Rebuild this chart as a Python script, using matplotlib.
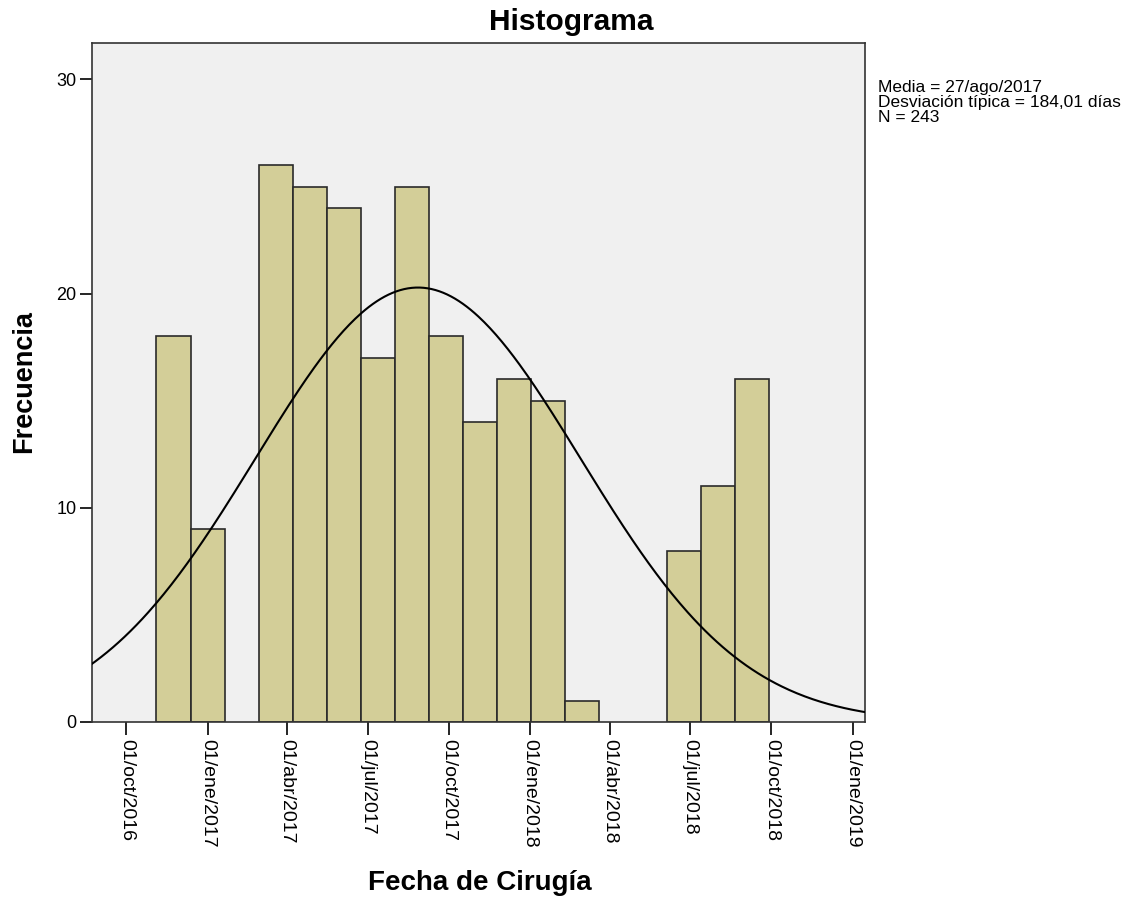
import datetime as dt

import numpy as np
import matplotlib
matplotlib.use("Agg")
import matplotlib.pyplot as plt
import matplotlib.dates as mdates

plt.rcParams["font.family"] = ["Liberation Sans", "DejaVu Sans"]

# histogram bins (SPSS style)
bin_start = dt.datetime(2016, 11, 4)
bin_width_days = 38.5
counts = [18, 9, 0, 26, 25, 24, 17, 25, 18, 14, 16, 15, 1, 0, 0, 8, 11, 16]

# statistics shown in the side box
mean_date = dt.datetime(2017, 8, 27)
sd_days = 184.01
n_total = 243

tick_dates = [dt.datetime(2016, 10, 1), dt.datetime(2017, 1, 1), dt.datetime(2017, 4, 1),
              dt.datetime(2017, 7, 1), dt.datetime(2017, 10, 1), dt.datetime(2018, 1, 1),
              dt.datetime(2018, 4, 1), dt.datetime(2018, 7, 1), dt.datetime(2018, 10, 1),
              dt.datetime(2019, 1, 1)]
tick_labels = ["01/oct/2016", "01/ene/2017", "01/abr/2017", "01/jul/2017", "01/oct/2017",
               "01/ene/2018", "01/abr/2018", "01/jul/2018", "01/oct/2018", "01/ene/2019"]

fig = plt.figure(figsize=(11.28, 8.99), dpi=100)
ax = fig.add_axes([92 / 1128, 1 - 722 / 899, (865 - 92) / 1128, (722 - 43) / 899])
ax.set_facecolor("#F0F0F0")

x0 = mdates.date2num(bin_start)
lefts = x0 + bin_width_days * np.arange(len(counts))
mask = np.array(counts) > 0
ax.bar(lefts[mask], np.array(counts)[mask], width=bin_width_days, align="edge",
       color="#D3CE98", edgecolor="#2a2a2a", linewidth=1.2, zorder=2)

# fitted normal curve
xs = np.linspace(mdates.date2num(dt.datetime(2016, 8, 20)),
                 mdates.date2num(dt.datetime(2019, 1, 20)), 400)
mu = mdates.date2num(mean_date)
ys = n_total * bin_width_days / (sd_days * np.sqrt(2 * np.pi)) * np.exp(-0.5 * ((xs - mu) / sd_days) ** 2)
ax.plot(xs, ys, color="black", linewidth=1.5, zorder=3)

ax.set_xlim(mdates.date2num(dt.datetime(2016, 8, 23)), mdates.date2num(dt.datetime(2019, 1, 15)))
ax.set_ylim(0, 31.7)
ax.set_xticks([mdates.date2num(d) for d in tick_dates])
ax.set_xticklabels(tick_labels, rotation=270, fontsize=14)
ax.set_yticks([0, 10, 20, 30])
ax.tick_params(axis="y", labelsize=13, length=9, width=1.2, pad=2)
ax.tick_params(axis="x", length=9, width=1.2, pad=3)
for sp in ax.spines.values():
    sp.set_color("#333333")
    sp.set_linewidth(1.2)

fig.text(571 / 1128, 1 - 30 / 899, "Histograma", fontsize=21.5, fontweight="bold",
         ha="center", va="baseline")
fig.text(24 / 1128, 1 - 382 / 899, "Frecuencia", fontsize=19.5, fontweight="bold",
         rotation=90, ha="center", va="center")
fig.text(480 / 1128, 1 - 890 / 899, "Fecha de Cirugía", fontsize=20, fontweight="bold",
         ha="center", va="baseline")

fig.text(878 / 1128, 1 - 80 / 899,
         "Media = 27/ago/2017\nDesviación típica = 184,01 días\nN = 243",
         fontsize=12.5, va="top", ha="left", linespacing=1.0)

fig.savefig("out.png", dpi=100)
